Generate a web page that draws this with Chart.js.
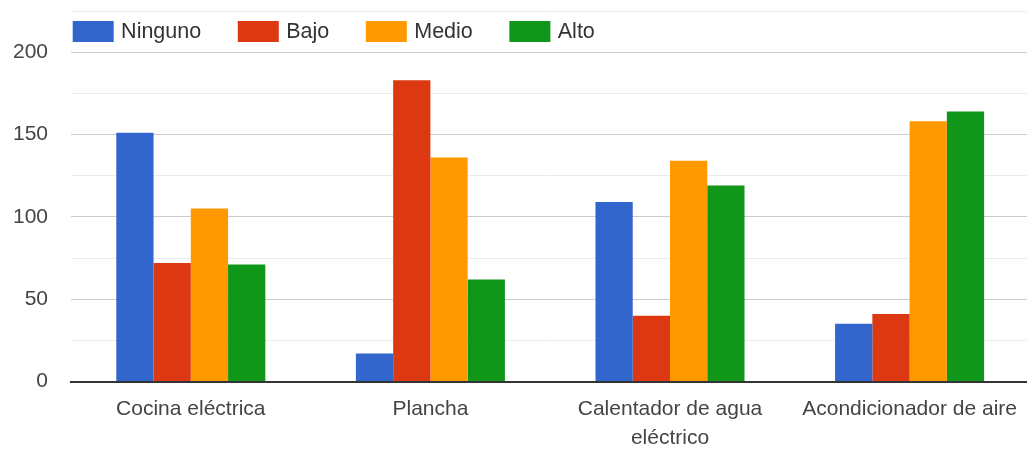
<!DOCTYPE html>
<html>
<head>
<meta charset="utf-8">
<script src="https://cdn.jsdelivr.net/npm/chart.js@4.4.1/dist/chart.umd.min.js"></script>
<style>
  html, body { margin: 0; padding: 0; background: #ffffff; overflow: hidden; }
  #wrap { position: relative; width: 1030px; height: 455px; }
</style>
</head>
<body>
<div id="wrap"><canvas id="chart"></canvas></div>
<script>
// Appliance categories (multi-line label as an array)
const categories = ['Cocina eléctrica', 'Plancha', ['Calentador de agua', 'eléctrico'], 'Acondicionador de aire'];

// Series names and values per category
const seriesNames = ['Ninguno', 'Bajo', 'Medio', 'Alto'];
const ninguno = [151, 17, 109, 35];
const bajo    = [72, 183, 40, 41];
const medio   = [105, 136, 134, 158];
const alto    = [71, 62, 119, 164];

// Labelled y ticks; the axis also has unlabelled minor steps in between
const yTickLabels = [0, 50, 100, 150, 200];
const yMax = 225;
const yStep = 25;

const seriesColors = ['#3366cc', '#dc3912', '#ff9900', '#109618'];
const seriesValues = [ninguno, bajo, medio, alto];

const FONT = "'Liberation Sans', Arial, sans-serif";

// Legend row drawn across the top of the plot
const topLegend = {
  id: 'topLegend',
  afterDraw(chart) {
    const ctx = chart.ctx;
    ctx.save();
    ctx.font = '21.5px ' + FONT;
    ctx.textBaseline = 'middle';
    ctx.textAlign = 'left';
    let x = 72.7;
    const yTop = 21, boxW = 41, boxH = 21;
    chart.data.datasets.forEach(ds => {
      ctx.fillStyle = ds.backgroundColor;
      ctx.fillRect(x, yTop, boxW, boxH);
      x += boxW + 7.4;
      ctx.fillStyle = '#333333';
      ctx.fillText(ds.label, x, yTop + boxH / 2 + 0.5);
      x += ctx.measureText(ds.label).width + 36.6;
    });
    ctx.restore();
  }
};

new Chart(document.getElementById('chart'), {
  type: 'bar',
  data: {
    labels: categories,
    datasets: seriesNames.map((name, i) => ({
      label: name,
      data: seriesValues[i],
      backgroundColor: seriesColors[i],
      borderWidth: 0,
      categoryPercentage: 0.622,
      barPercentage: 1.0
    }))
  },
  options: {
    responsive: true,
    maintainAspectRatio: false,
    animation: false,
    layout: { padding: { top: 11, right: 0, bottom: 0, left: 0 } },
    plugins: {
      legend: { display: false },
      tooltip: { enabled: false }
    },
    scales: {
      x: {
        grid: { display: false, drawTicks: false },
        border: { display: true, color: '#333333', width: 2 },
        ticks: {
          color: '#444444',
          font: { family: FONT, size: 21, lineHeight: 1.4 },
          padding: 13,
          maxRotation: 0,
          autoSkip: false
        },
        afterFit(scale) { scale.height = 73.5; }
      },
      y: {
        min: 0,
        max: yMax,
        grid: {
          drawTicks: false,
          color(ctx) {
            const v = ctx.tick ? ctx.tick.value : 0;
            if (v === 0) return 'rgba(0,0,0,0)';
            return yTickLabels.includes(v) ? '#cccccc' : '#ebebeb';
          },
          lineWidth: 1
        },
        border: { display: false },
        ticks: {
          stepSize: yStep,
          color: '#444444',
          font: { family: FONT, size: 21 },
          padding: 23,
          callback(v) { return yTickLabels.includes(v) ? String(v) : ''; }
        },
        afterFit(scale) {
          scale.width = 71;
          scale.paddingTop = 0;
          scale.paddingBottom = 0;
        }
      }
    }
  },
  plugins: [topLegend]
});
</script>
</body>
</html>
